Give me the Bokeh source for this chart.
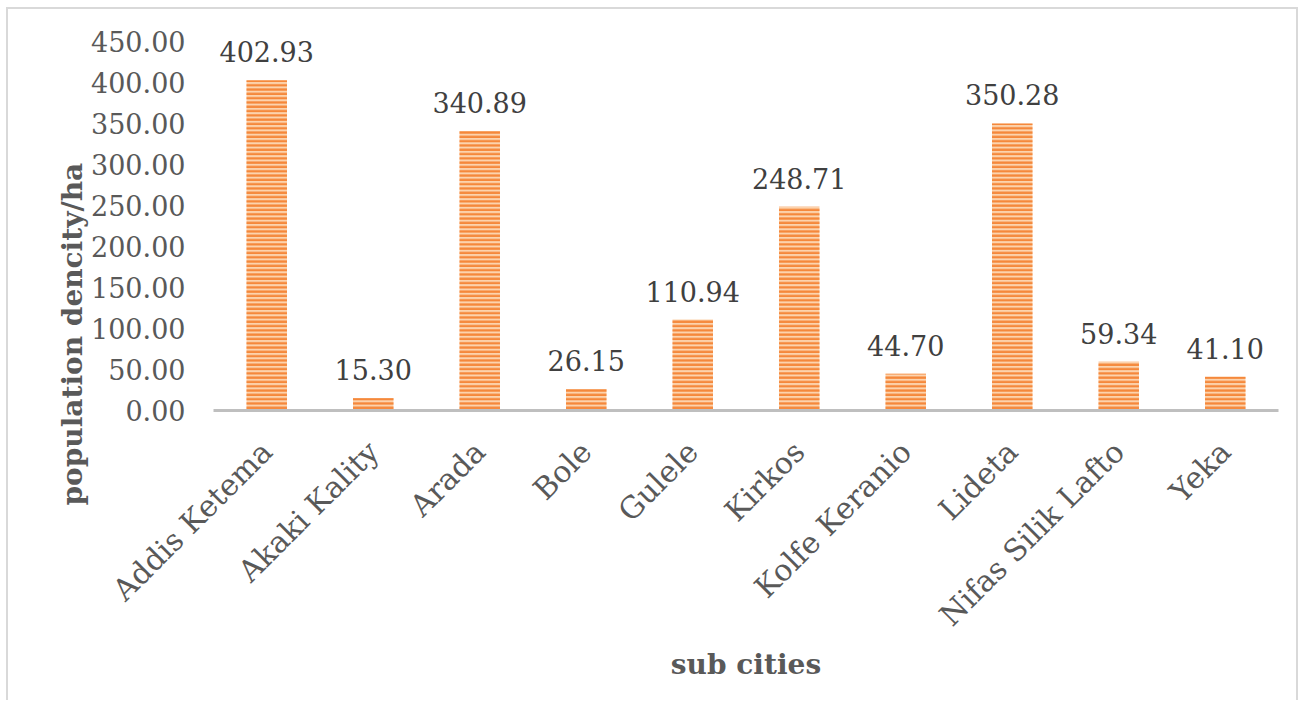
from bokeh.plotting import figure
from bokeh.models import (ColumnDataSource, Range1d, FactorRange, NumeralTickFormatter,
                          FixedTicker, LabelSet, Title)
from bokeh.embed import file_html
from bokeh.resources import INLINE
from bokeh.core.properties import value
import math

sub_cities = ["Addis Ketema", "Akaki Kality", "Arada", "Bole", "Gulele", "Kirkos",
              "Kolfe Keranio", "Lideta", "Nifas Silik Lafto", "Yeka"]
density = [402.93, 15.30, 340.89, 26.15, 110.94, 248.71, 44.70, 350.28, 59.34, 41.10]
y_ticks = [0, 50, 100, 150, 200, 250, 300, 350, 400, 450]

labels = [f"{v:.2f}" for v in density]
src = ColumnDataSource(dict(x=sub_cities, y=density, lab=labels))

FONT = "DejaVu Serif"

p = figure(width=1292, height=693, output_backend="svg", toolbar_location=None,
           x_range=FactorRange(*sub_cities, range_padding=0), y_range=Range1d(0, 460))
p.min_border_left = 205
p.min_border_right = 22
p.min_border_top = 24
p.min_border_bottom = 292
p.outline_line_color = None
p.styles = {"border-left": "2px solid #d9d9d9", "border-top": "2px solid #d9d9d9",
            "border-right": "2px solid #d9d9d9", "margin-left": "6px", "margin-top": "7px"}

p.vbar(x="x", top="y", width=0.38, source=src, fill_color="#fcd3ad", line_color=None,
       hatch_pattern="horizontal_line", hatch_color="#f5883b", hatch_scale=4.3, hatch_weight=2.3)

p.add_layout(LabelSet(x="x", y="y", text="lab", source=src, text_align="center",
                      text_baseline="alphabetic", y_offset=18, text_font=value(FONT),
                      text_font_size="27px", text_color="#404040"))

p.xgrid.visible = False
p.ygrid.visible = False

p.yaxis.ticker = FixedTicker(ticks=y_ticks)
p.yaxis.formatter = NumeralTickFormatter(format="0.00")
p.yaxis.axis_line_color = None
p.yaxis.major_tick_line_color = None
p.yaxis.minor_tick_line_color = None
p.yaxis.major_label_standoff = 22
p.yaxis.major_label_text_font = FONT
p.yaxis.major_label_text_font_size = "27px"
p.yaxis.major_label_text_color = "#595959"

# y-axis title, placed lower than the frame centre as in the reference
p.add_layout(Title(text="population dencity/ha", align="left", offset=-95,
                   text_font=FONT, text_font_style="bold", text_font_size="28px",
                   text_color="#595959", standoff=0), "left")

p.xaxis.axis_line_color = "#bfbfbf"
p.xaxis.axis_line_width = 3
p.xaxis.major_tick_line_color = None
p.xaxis.minor_tick_line_color = None
p.xaxis.major_label_orientation = math.pi / 4
p.xaxis.major_label_standoff = 30
p.xaxis.major_label_text_font = FONT
p.xaxis.major_label_text_font_size = "30px"
p.xaxis.major_label_text_color = "#595959"
p.xaxis.axis_label = "sub cities"
p.xaxis.axis_label_text_font = FONT
p.xaxis.axis_label_text_font_style = "bold"
p.xaxis.axis_label_text_font_size = "28px"
p.xaxis.axis_label_text_color = "#595959"
p.xaxis.axis_label_standoff = 0

open("out.html", "w").write(file_html(p, INLINE))
